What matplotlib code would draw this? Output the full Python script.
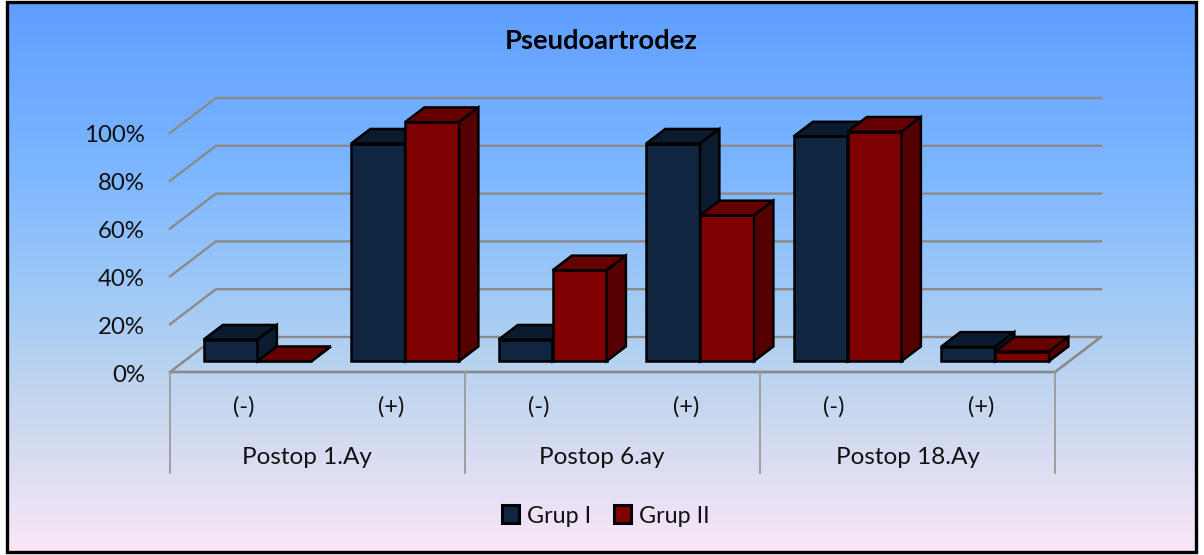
import matplotlib
matplotlib.use('Agg')
import matplotlib.pyplot as plt
import numpy as np
from matplotlib.colors import LinearSegmentedColormap
from matplotlib.patches import Patch, Polygon, Rectangle
from matplotlib.transforms import ScaledTranslation

title = 'Pseudoartrodez'
groups = ['Postop 1.Ay', 'Postop 6.ay', 'Postop 18.Ay']
categories = ['(-)', '(+)', '(-)', '(+)', '(-)', '(+)']
grup_1 = [9, 91, 9, 91, 94, 6]
grup_2 = [0, 100, 38, 61, 96, 4]
y_ticks = [0, 20, 40, 60, 80, 100]
y_labels = ['0%', '20%', '40%', '60%', '80%', '100%']

W, H = 1204, 555
FONT = 'Lato'
plt.rcParams['font.family'] = [FONT, 'DejaVu Sans']

fig = plt.figure(figsize=(W / 100, H / 100), dpi=100, facecolor='white')

# background gradient and frame, in pixel coords
bg = fig.add_axes([0, 0, 1, 1], zorder=0)
bg.set_xlim(0, W)
bg.set_ylim(H, 0)
bg.axis('off')
cmap = LinearSegmentedColormap.from_list('bg', [
    (0.0, '#5f9eff'), (0.3, '#7cb6ff'), (0.55, '#a3cbf5'),
    (0.72, '#c3d6ee'), (1.0, '#fbe6f8')])
grad = np.linspace(0, 1, 256).reshape(-1, 1)
bg.imshow(grad, cmap=cmap, aspect='auto', extent=(7, 1196, 552, 2), zorder=0)
bg.set_xlim(0, W)
bg.set_ylim(H, 0)
bg.add_patch(Rectangle((6.5, 2), 1189, 550, fill=False, ec='black', lw=2.4, zorder=1))

# chart axes: front plane of the 3d box
x0, x1 = 170, 1055
y_zero, y_full = 372, 133
ax = fig.add_axes([x0 / W, 1 - y_zero / H, (x1 - x0) / W, (y_zero - y_full) / H], zorder=1)
ax.patch.set_alpha(0)
ax.set_xlim(0, 6)
ax.set_ylim(0, 100)
for s in ax.spines.values():
    s.set_visible(False)

px_x = 6 / (x1 - x0)
px_y = 100 / (y_zero - y_full)
depth_x = 46 * px_x
depth_y = 35 * px_y
grid_col = '#8a8a8a'

# grid on side and back walls
for v in y_ticks:
    ax.plot([0, depth_x, 6 + depth_x], [v, v + depth_y, v + depth_y], color=grid_col,
            lw=1.7, clip_on=False, zorder=1, solid_joinstyle='miter')
ax.plot([0, 6, 6 + depth_x], [0, 0, depth_y], color=grid_col, lw=1.9, clip_on=False, zorder=2)

# separators under the floor
for x in [0, 2, 4, 6]:
    ax.plot([x, x], [0, -101 * px_y], color='#9a9a9a', lw=1.3, clip_on=False, zorder=2)


def box(x, width, value, front, top, side, z):
    # bar standing part way into the floor
    lo_x = x + 0.3 * depth_x
    lo_y = 0.31 * depth_y
    dx = 0.42 * depth_x
    dy = 0.42 * depth_y
    edge = dict(ec='black', lw=1.8, joinstyle='miter', clip_on=False, zorder=z)
    ax.bar(lo_x, value, width, bottom=lo_y, align='edge', color=front, **edge)
    t = lo_y + value
    ax.add_patch(Polygon([(lo_x, t), (lo_x + dx, t + dy), (lo_x + width + dx, t + dy), (lo_x + width, t)],
                         fc=top, **edge))
    ax.add_patch(Polygon([(lo_x + width, lo_y), (lo_x + width + dx, lo_y + dy),
                          (lo_x + width + dx, t + dy), (lo_x + width, t)], fc=side, **edge))


bar_w = 54 * px_x
z = 5
for i in range(len(categories)):
    c = i + 0.5
    box(c - bar_w, bar_w, grup_1[i], '#10253f', '#0b1a2e', '#0c1c30', z)
    box(c, bar_w, grup_2[i], '#7f0000', '#660000', '#550000', z + 1)
    z += 2

ax.set_yticks(y_ticks)
ax.set_yticklabels(y_labels, fontsize=17.3, color='#111111')
ax.tick_params(axis='y', length=0, pad=18)
# nudge the y labels down a little
nudge = ScaledTranslation(0, -1 / 100, fig.dpi_scale_trans)
for lab in ax.get_yticklabels():
    lab.set_transform(lab.get_transform() + nudge)
ax.set_xticks(np.arange(6) + 0.5)
ax.set_xticklabels(categories, fontsize=17, color='#111111')
ax.tick_params(axis='x', length=0, pad=17)

group_x = [0.93, 2.93, 5]
for gx, g in zip(group_x, groups):
    ax.text(gx, -85 * px_y, g, ha='center', va='center', fontsize=17.5, color='#111111', clip_on=False)

fig.text(601 / W, 1 - 41 / H, title, ha='center', va='center', fontsize=19.7,
         fontweight='bold', color='black')

handles = [Patch(fc='#10253f', ec='black', lw=2.2, label='Grup I'),
           Patch(fc='#7f0000', ec='black', lw=2.2, label='Grup II')]
leg = fig.legend(handles=handles, loc='center', bbox_to_anchor=(606 / W, 1 - 516 / H), ncol=2, frameon=False,
                 fontsize=16.8, handlelength=0.72, handleheight=0.8, handletextpad=0.35,
                 columnspacing=1.0, labelcolor='#111111')

fig.savefig('out.png', dpi=100, facecolor='white')
